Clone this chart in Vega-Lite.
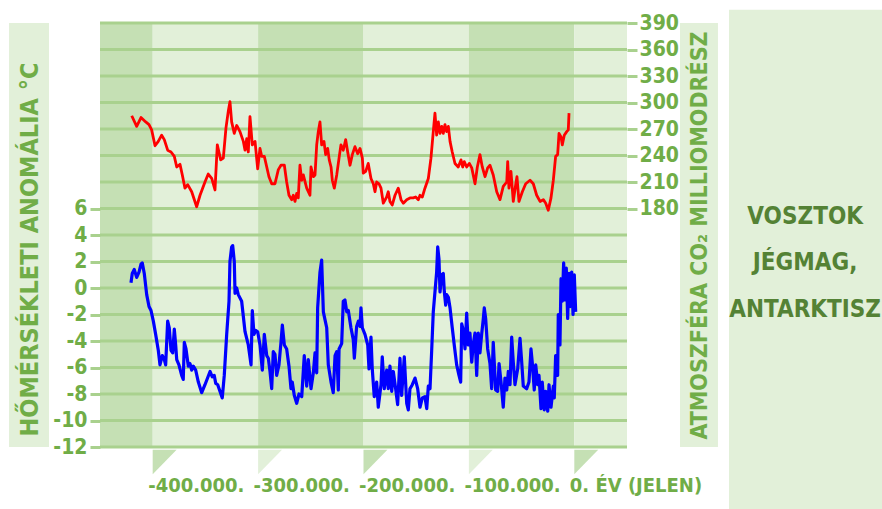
{
  "$schema": "https://vega.github.io/schema/vega-lite/v6.json",
  "width": 527,
  "height": 424,
  "autosize": {"type": "none"},
  "padding": {"left": 100, "top": 23, "right": 255, "bottom": 62},
  "background": "white",
  "config": {"view": {"stroke": null}, "font": "DejaVu Sans Condensed, sans-serif"},
  "datasets": {
    "bands": [
      {"s": -450000, "e": -400000, "shade": "d"},
      {"s": -400000, "e": -300000, "shade": "l"},
      {"s": -300000, "e": -200000, "shade": "d"},
      {"s": -200000, "e": -100000, "shade": "l"},
      {"s": -100000, "e": 0, "shade": "d"},
      {"s": 0, "e": 50000, "shade": "l"}
    ],
    "boxes": [
      {"x1": -536300, "x2": -498400, "t1": 20, "t2": -12},
      {"x1": 100300, "x2": 136300, "t1": 20, "t2": -12},
      {"x1": 146800, "x2": 300000, "t1": 21, "t2": -17}
    ],
    "grid": [
      {"t": -12}, {"t": -10}, {"t": -8}, {"t": -6}, {"t": -4}, {"t": -2}, {"t": 0}, {"t": 2}, {"t": 4},
      {"t": 6}, {"t": 8}, {"t": 10}, {"t": 12}, {"t": 14}, {"t": 16}, {"t": 18}, {"t": 20}
    ],
    "flags": [
      {"k": "a", "x": -400000, "top": -12.2, "bot": -14.05, "shade": "d"},
      {"k": "a", "x": -377300, "top": -12.2, "bot": -12.2, "shade": "d"},
      {"k": "b", "x": -300000, "top": -12.2, "bot": -14.05, "shade": "l"},
      {"k": "b", "x": -277300, "top": -12.2, "bot": -12.2, "shade": "l"},
      {"k": "c", "x": -200000, "top": -12.2, "bot": -14.05, "shade": "d"},
      {"k": "c", "x": -177300, "top": -12.2, "bot": -12.2, "shade": "d"},
      {"k": "d", "x": -100000, "top": -12.2, "bot": -14.05, "shade": "l"},
      {"k": "d", "x": -77300, "top": -12.2, "bot": -12.2, "shade": "l"},
      {"k": "e", "x": 0, "top": -12.2, "bot": -14.05, "shade": "d"},
      {"k": "e", "x": 22700, "top": -12.2, "bot": -12.2, "shade": "d"}
    ],
    "panel": [
      {"x": 219000, "t": 5.36, "txt": "VOSZTOK"},
      {"x": 219000, "t": 1.89, "txt": "JÉGMAG,"},
      {"x": 219000, "t": -1.66, "txt": "ANTARKTISZ"}
    ],
    "temp": [
      {"y": -420600, "t": 0.4}, {"y": -419400, "t": 1.1}, {"y": -417500, "t": 1.4}, {"y": -415200, "t": 0.8},
      {"y": -413000, "t": 1.2}, {"y": -411100, "t": 1.8}, {"y": -409900, "t": 1.9}, {"y": -408000, "t": 1.1},
      {"y": -405700, "t": -0.5}, {"y": -403500, "t": -1.4}, {"y": -401600, "t": -1.7}, {"y": -399400, "t": -2.5},
      {"y": -397200, "t": -3.5}, {"y": -394700, "t": -4.7}, {"y": -393100, "t": -5.8}, {"y": -390900, "t": -5.1},
      {"y": -389000, "t": -5.4}, {"y": -387700, "t": -5.8}, {"y": -385800, "t": -2.5}, {"y": -384300, "t": -3.0},
      {"y": -382600, "t": -4.7}, {"y": -381000, "t": -4.9}, {"y": -379500, "t": -3.1}, {"y": -378200, "t": -4.3},
      {"y": -377200, "t": -5.4}, {"y": -375100, "t": -5.8}, {"y": -372500, "t": -6.6}, {"y": -371000, "t": -6.9},
      {"y": -370000, "t": -4.1}, {"y": -368400, "t": -4.6}, {"y": -366200, "t": -5.9}, {"y": -364600, "t": -5.7},
      {"y": -363000, "t": -6.2}, {"y": -361500, "t": -5.9}, {"y": -359200, "t": -6.2}, {"y": -356700, "t": -7.1},
      {"y": -353500, "t": -7.9}, {"y": -350400, "t": -7.3}, {"y": -345600, "t": -6.3}, {"y": -343500, "t": -6.7},
      {"y": -341600, "t": -6.6}, {"y": -340200, "t": -7.2}, {"y": -338300, "t": -7.3}, {"y": -336200, "t": -7.8},
      {"y": -334000, "t": -8.3}, {"y": -332100, "t": -6.6}, {"y": -329800, "t": -3.5}, {"y": -327600, "t": -1.0},
      {"y": -326700, "t": 2.0}, {"y": -325100, "t": 3.1}, {"y": -324100, "t": 3.2}, {"y": -322600, "t": 2.0},
      {"y": -321900, "t": -0.4}, {"y": -320300, "t": 0.0}, {"y": -318800, "t": -0.5}, {"y": -315600, "t": -1.0},
      {"y": -312400, "t": -3.3}, {"y": -309300, "t": -4.3}, {"y": -306700, "t": -5.8}, {"y": -305500, "t": -1.7},
      {"y": -303900, "t": -3.5}, {"y": -302300, "t": -3.2}, {"y": -300400, "t": -3.3}, {"y": -298200, "t": -4.3},
      {"y": -296000, "t": -6.2}, {"y": -294100, "t": -3.5}, {"y": -291800, "t": -5.1}, {"y": -290300, "t": -5.3},
      {"y": -288700, "t": -6.3}, {"y": -287100, "t": -7.6}, {"y": -285600, "t": -4.8}, {"y": -284000, "t": -5.0},
      {"y": -282400, "t": -6.6}, {"y": -280200, "t": -5.8}, {"y": -278300, "t": -4.1}, {"y": -277000, "t": -2.8},
      {"y": -275100, "t": -4.3}, {"y": -272900, "t": -4.6}, {"y": -270700, "t": -5.9}, {"y": -268800, "t": -7.6},
      {"y": -267600, "t": -7.1}, {"y": -265700, "t": -8.1}, {"y": -263400, "t": -8.7}, {"y": -261200, "t": -8.0},
      {"y": -258600, "t": -8.2}, {"y": -256200, "t": -5.1}, {"y": -253900, "t": -7.4}, {"y": -252400, "t": -5.4},
      {"y": -249800, "t": -7.6}, {"y": -247600, "t": -6.4}, {"y": -246000, "t": -4.9}, {"y": -244400, "t": -6.4},
      {"y": -243500, "t": -1.5}, {"y": -241300, "t": 1.2}, {"y": -239700, "t": 2.1}, {"y": -238100, "t": -1.8},
      {"y": -236500, "t": -2.4}, {"y": -234900, "t": -3.0}, {"y": -233400, "t": -5.8}, {"y": -230800, "t": -7.1},
      {"y": -228700, "t": -7.9}, {"y": -227000, "t": -5.1}, {"y": -225400, "t": -4.8}, {"y": -223900, "t": -7.7},
      {"y": -223200, "t": -4.6}, {"y": -220700, "t": -4.2}, {"y": -219200, "t": -1.0}, {"y": -217600, "t": -0.9},
      {"y": -215900, "t": -1.8}, {"y": -214400, "t": -1.7}, {"y": -211900, "t": -3.0}, {"y": -209700, "t": -3.9},
      {"y": -208700, "t": -5.3}, {"y": -206500, "t": -2.9}, {"y": -204900, "t": -2.5}, {"y": -203300, "t": -2.9},
      {"y": -202400, "t": -1.5}, {"y": -201100, "t": -3.0}, {"y": -198600, "t": -3.5}, {"y": -196000, "t": -4.3},
      {"y": -194800, "t": -6.1}, {"y": -192900, "t": -3.7}, {"y": -191700, "t": -6.1}, {"y": -189800, "t": -8.2},
      {"y": -187500, "t": -7.1}, {"y": -186000, "t": -9.0}, {"y": -183400, "t": -7.3}, {"y": -182200, "t": -5.2},
      {"y": -180300, "t": -7.6}, {"y": -178000, "t": -6.2}, {"y": -176500, "t": -7.6}, {"y": -174900, "t": -5.9},
      {"y": -173200, "t": -7.8}, {"y": -171700, "t": -6.3}, {"y": -169500, "t": -7.6}, {"y": -167600, "t": -8.8},
      {"y": -165400, "t": -5.3}, {"y": -163800, "t": -8.1}, {"y": -161300, "t": -5.2}, {"y": -159000, "t": -8.7},
      {"y": -157500, "t": -9.2}, {"y": -155900, "t": -7.6}, {"y": -153700, "t": -7.3}, {"y": -151100, "t": -6.8},
      {"y": -148600, "t": -7.6}, {"y": -146400, "t": -9.0}, {"y": -144200, "t": -8.3}, {"y": -141700, "t": -8.2},
      {"y": -140000, "t": -9.1}, {"y": -138500, "t": -7.4}, {"y": -136900, "t": -7.6}, {"y": -135300, "t": -4.7},
      {"y": -133800, "t": -1.8}, {"y": -132200, "t": -0.3}, {"y": -130600, "t": 1.2}, {"y": -129600, "t": 3.1},
      {"y": -128400, "t": 2.2}, {"y": -127400, "t": -0.3}, {"y": -125800, "t": 1.0}, {"y": -124300, "t": 1.1},
      {"y": -123300, "t": -0.3}, {"y": -122000, "t": -1.3}, {"y": -121100, "t": -0.5}, {"y": -119500, "t": -0.7},
      {"y": -117900, "t": -1.5}, {"y": -115800, "t": -3.0}, {"y": -113900, "t": -4.3}, {"y": -111600, "t": -5.8},
      {"y": -109400, "t": -6.6}, {"y": -107800, "t": -7.1}, {"y": -106800, "t": -2.7}, {"y": -105300, "t": -3.2},
      {"y": -103700, "t": -4.6}, {"y": -102100, "t": -1.9}, {"y": -100600, "t": -4.3}, {"y": -99000, "t": -3.4},
      {"y": -97300, "t": -5.6}, {"y": -95800, "t": -4.2}, {"y": -94200, "t": -3.4}, {"y": -92600, "t": -6.6},
      {"y": -91100, "t": -3.4}, {"y": -89500, "t": -4.9}, {"y": -87900, "t": -3.5}, {"y": -86300, "t": -2.3},
      {"y": -85400, "t": -1.5}, {"y": -84100, "t": -2.3}, {"y": -82200, "t": -4.6}, {"y": -80000, "t": -5.7},
      {"y": -78400, "t": -7.6}, {"y": -76900, "t": -4.1}, {"y": -74600, "t": -7.7}, {"y": -72700, "t": -7.8},
      {"y": -71400, "t": -5.7}, {"y": -69500, "t": -7.1}, {"y": -67400, "t": -9.0}, {"y": -65800, "t": -6.8},
      {"y": -64100, "t": -7.7}, {"y": -62600, "t": -6.3}, {"y": -61000, "t": -7.3}, {"y": -59400, "t": -3.7},
      {"y": -57900, "t": -5.6}, {"y": -56300, "t": -7.3}, {"y": -53700, "t": -6.1}, {"y": -51500, "t": -3.8},
      {"y": -49900, "t": -5.6}, {"y": -48400, "t": -7.4}, {"y": -45200, "t": -7.6}, {"y": -43000, "t": -7.1},
      {"y": -41100, "t": -4.6}, {"y": -39900, "t": -5.6}, {"y": -38000, "t": -7.7}, {"y": -36600, "t": -5.8},
      {"y": -34700, "t": -7.3}, {"y": -33500, "t": -6.6}, {"y": -31600, "t": -9.1}, {"y": -30400, "t": -7.1},
      {"y": -28500, "t": -9.2}, {"y": -27100, "t": -7.8}, {"y": -25200, "t": -9.3}, {"y": -24000, "t": -7.3},
      {"y": -22100, "t": -9.0}, {"y": -19900, "t": -7.4}, {"y": -19000, "t": -8.3}, {"y": -17700, "t": -5.1},
      {"y": -15800, "t": -6.6}, {"y": -15200, "t": -2.0}, {"y": -13600, "t": -4.3}, {"y": -12600, "t": 0.7},
      {"y": -11400, "t": -1.0}, {"y": -10100, "t": 1.9}, {"y": -8800, "t": -0.9}, {"y": -7600, "t": 1.5},
      {"y": -6300, "t": -2.3}, {"y": -5000, "t": 1.1}, {"y": -3800, "t": -1.4}, {"y": -2500, "t": 1.2},
      {"y": -1200, "t": -2.0}, {"y": 0, "t": 1.0}, {"y": 1300, "t": -1.8}
    ],
    "co2": [
      {"y": -419900, "c": 285}, {"y": -415200, "c": 273}, {"y": -411100, "c": 283}, {"y": -406600, "c": 278},
      {"y": -403500, "c": 275}, {"y": -401000, "c": 269}, {"y": -397800, "c": 251}, {"y": -394700, "c": 256},
      {"y": -391500, "c": 263}, {"y": -389000, "c": 258}, {"y": -385800, "c": 246}, {"y": -382600, "c": 244},
      {"y": -379500, "c": 239}, {"y": -377200, "c": 227}, {"y": -374100, "c": 230}, {"y": -371900, "c": 218},
      {"y": -369400, "c": 203}, {"y": -366800, "c": 207}, {"y": -363000, "c": 199}, {"y": -358300, "c": 182},
      {"y": -355100, "c": 195}, {"y": -350400, "c": 210}, {"y": -347300, "c": 219}, {"y": -344000, "c": 214},
      {"y": -340900, "c": 201}, {"y": -338700, "c": 252}, {"y": -335500, "c": 235}, {"y": -333000, "c": 237},
      {"y": -330500, "c": 271}, {"y": -328300, "c": 290}, {"y": -326700, "c": 301}, {"y": -325100, "c": 278},
      {"y": -322600, "c": 265}, {"y": -320300, "c": 274}, {"y": -317200, "c": 267}, {"y": -314000, "c": 256},
      {"y": -312400, "c": 246}, {"y": -310800, "c": 259}, {"y": -309300, "c": 244}, {"y": -307700, "c": 284},
      {"y": -305500, "c": 252}, {"y": -302900, "c": 256}, {"y": -300400, "c": 225}, {"y": -298200, "c": 248},
      {"y": -296600, "c": 239}, {"y": -294100, "c": 239}, {"y": -291800, "c": 227}, {"y": -289700, "c": 216},
      {"y": -287100, "c": 208}, {"y": -284000, "c": 208}, {"y": -280800, "c": 224}, {"y": -278300, "c": 229},
      {"y": -275100, "c": 229}, {"y": -272900, "c": 210}, {"y": -270700, "c": 195}, {"y": -268100, "c": 190},
      {"y": -266600, "c": 195}, {"y": -265000, "c": 188}, {"y": -263400, "c": 197}, {"y": -261900, "c": 192},
      {"y": -260300, "c": 229}, {"y": -258600, "c": 212}, {"y": -257100, "c": 218}, {"y": -253900, "c": 203},
      {"y": -250800, "c": 195}, {"y": -249800, "c": 227}, {"y": -247600, "c": 216}, {"y": -246000, "c": 218},
      {"y": -244400, "c": 252}, {"y": -242900, "c": 267}, {"y": -241300, "c": 278}, {"y": -239700, "c": 252},
      {"y": -237500, "c": 256}, {"y": -235900, "c": 241}, {"y": -234000, "c": 248}, {"y": -232500, "c": 235},
      {"y": -230800, "c": 227}, {"y": -229600, "c": 212}, {"y": -227700, "c": 203}, {"y": -225400, "c": 218},
      {"y": -223200, "c": 237}, {"y": -221400, "c": 252}, {"y": -219200, "c": 246}, {"y": -216900, "c": 258},
      {"y": -215000, "c": 244}, {"y": -212800, "c": 229}, {"y": -210600, "c": 241}, {"y": -208100, "c": 250},
      {"y": -205500, "c": 242}, {"y": -203300, "c": 248}, {"y": -201100, "c": 237}, {"y": -200200, "c": 220},
      {"y": -197900, "c": 222}, {"y": -195500, "c": 231}, {"y": -192900, "c": 214}, {"y": -190700, "c": 208},
      {"y": -189100, "c": 199}, {"y": -187500, "c": 210}, {"y": -185300, "c": 208}, {"y": -183400, "c": 203},
      {"y": -181200, "c": 186}, {"y": -178000, "c": 193}, {"y": -176500, "c": 199}, {"y": -174900, "c": 188},
      {"y": -172700, "c": 184}, {"y": -170100, "c": 195}, {"y": -167000, "c": 203}, {"y": -164400, "c": 190},
      {"y": -162200, "c": 186}, {"y": -159000, "c": 190}, {"y": -155900, "c": 192}, {"y": -152800, "c": 192},
      {"y": -150500, "c": 193}, {"y": -148000, "c": 190}, {"y": -146400, "c": 195}, {"y": -144200, "c": 193},
      {"y": -141700, "c": 203}, {"y": -138500, "c": 214}, {"y": -136000, "c": 237}, {"y": -133800, "c": 267},
      {"y": -132200, "c": 288}, {"y": -130600, "c": 263}, {"y": -129000, "c": 278}, {"y": -127400, "c": 265},
      {"y": -125800, "c": 273}, {"y": -124300, "c": 265}, {"y": -122700, "c": 275}, {"y": -121100, "c": 267},
      {"y": -119500, "c": 273}, {"y": -117900, "c": 256}, {"y": -115800, "c": 244}, {"y": -113200, "c": 231},
      {"y": -110100, "c": 227}, {"y": -107500, "c": 235}, {"y": -105900, "c": 227}, {"y": -104400, "c": 233},
      {"y": -102100, "c": 227}, {"y": -99600, "c": 231}, {"y": -97300, "c": 226}, {"y": -94200, "c": 208},
      {"y": -92000, "c": 227}, {"y": -89500, "c": 241}, {"y": -87300, "c": 227}, {"y": -84700, "c": 216},
      {"y": -82200, "c": 226}, {"y": -80000, "c": 229}, {"y": -76900, "c": 218}, {"y": -73600, "c": 199},
      {"y": -70500, "c": 190}, {"y": -67400, "c": 205}, {"y": -64100, "c": 210}, {"y": -63200, "c": 233},
      {"y": -62000, "c": 203}, {"y": -60100, "c": 222}, {"y": -57900, "c": 188}, {"y": -55600, "c": 207},
      {"y": -54400, "c": 216}, {"y": -52500, "c": 188}, {"y": -49300, "c": 199}, {"y": -46100, "c": 208},
      {"y": -42000, "c": 212}, {"y": -38900, "c": 208}, {"y": -35700, "c": 195}, {"y": -32500, "c": 188},
      {"y": -29400, "c": 190}, {"y": -27100, "c": 186}, {"y": -24700, "c": 178}, {"y": -22100, "c": 192},
      {"y": -19900, "c": 212}, {"y": -17700, "c": 239}, {"y": -15800, "c": 241}, {"y": -14500, "c": 265},
      {"y": -12600, "c": 261}, {"y": -11400, "c": 252}, {"y": -9500, "c": 263}, {"y": -7200, "c": 267},
      {"y": -5700, "c": 269}, {"y": -5000, "c": 288}
    ]
  },
  "layer": [
    {
      "layer": [
        {
          "data": {"name": "bands"},
          "mark": {"type": "rect"},
          "encoding": {
            "x": {"field": "s", "type": "quantitative", "scale": {"domain": [-450000, 50000], "nice": false, "zero": false},
              "axis": {"orient": "bottom", "values": [-400000, -300000, -200000, -100000, 0],
                "labelExpr": "datum.value == 0 ? '0. ÉV (JELEN)' : '-' + format(abs(datum.value) / 1000, 'd') + '.000.'",
                "title": null, "domain": false, "ticks": false, "grid": false, "labelAlign": "left", "labelOffset": -5,
                "labelPadding": 28, "labelBaseline": "top", "labelFontSize": 20, "labelFontWeight": "bold",
                "labelColor": "#70AD47", "labelFlush": false, "labelOverlap": false, "labelBound": false,
                "labelFont": "DejaVu Sans Condensed, sans-serif"}},
            "x2": {"field": "e"},
            "color": {"field": "shade", "type": "nominal", "scale": {"domain": ["d", "l"], "range": ["#C5E0B4", "#E2F0D9"]}, "legend": null}
          }
        },
        {
          "data": {"name": "boxes"},
          "mark": {"type": "rect", "fill": "#E2F0D9"},
          "encoding": {
            "x": {"field": "x1", "type": "quantitative", "scale": {"domain": [-450000, 50000], "nice": false, "zero": false}, "axis": null},
            "x2": {"field": "x2"},
            "y": {"field": "t1", "type": "quantitative", "scale": {"domain": [-12, 20], "nice": false, "zero": false}, "axis": null},
            "y2": {"field": "t2"}
          }
        },
        {
          "data": {"name": "grid"},
          "mark": {"type": "rule", "color": "#A9D18E", "strokeWidth": 3},
          "encoding": {
            "y": {"field": "t", "type": "quantitative", "scale": {"domain": [-12, 20], "nice": false, "zero": false},
              "axis": {"orient": "left", "values": [-12, -10, -8, -6, -4, -2, 0, 2, 4, 6],
                "labelExpr": "datum.value < 0 ? '-' + abs(datum.value) : '' + datum.value",
                "title": "HŐMÉRSÉKLETI ANOMÁLIA °C", "titleX": -71, "titleY": 226, "titleAngle": -90,
                "titleAlign": "center", "titleBaseline": "middle", "titleFontSize": 25, "titleFontWeight": "bold",
                "titleColor": "#70AD47", "titleFont": "DejaVu Sans Condensed, sans-serif",
                "domain": false, "grid": false, "tickSize": 10, "tickWidth": 3, "tickColor": "#A9D18E",
                "labelFontSize": 21, "labelFontWeight": "bold", "labelColor": "#70AD47", "labelPadding": 3,
                "labelFont": "DejaVu Sans Condensed, sans-serif", "labelOverlap": false,
                "labelBound": false, "labelFlush": false, "zindex": 1}}
          }
        },
        {
          "data": {"name": "flags"},
          "mark": {"type": "area"},
          "encoding": {
            "x": {"field": "x", "type": "quantitative", "scale": {"domain": [-450000, 50000], "nice": false, "zero": false}, "axis": null},
            "y": {"field": "top", "type": "quantitative", "scale": {"domain": [-12, 20], "nice": false, "zero": false}, "axis": null},
            "y2": {"field": "bot"},
            "detail": {"field": "k", "type": "nominal"},
            "color": {"field": "shade", "type": "nominal", "legend": null}
          }
        },
        {
          "data": {"name": "temp"},
          "mark": {"type": "line", "color": "#0000FF", "strokeWidth": 3.2, "strokeJoin": "round"},
          "encoding": {
            "x": {"field": "y", "type": "quantitative", "scale": {"domain": [-450000, 50000], "nice": false, "zero": false}, "axis": null},
            "y": {"field": "t", "type": "quantitative", "scale": {"domain": [-12, 20], "nice": false, "zero": false}, "axis": null}
          }
        },
        {
          "data": {"name": "panel"},
          "mark": {"type": "text", "fontSize": 24, "fontWeight": "bold", "color": "#548235", "align": "center", "baseline": "middle",
            "font": "DejaVu Sans Condensed, sans-serif"},
          "encoding": {
            "x": {"field": "x", "type": "quantitative", "scale": {"domain": [-450000, 50000], "nice": false, "zero": false}, "axis": null},
            "y": {"field": "t", "type": "quantitative", "scale": {"domain": [-12, 20], "nice": false, "zero": false}, "axis": null},
            "text": {"field": "txt"}
          }
        }
      ],
      "resolve": {"axis": {"x": "independent", "y": "independent"}}
    },
    {
      "data": {"name": "co2"},
      "mark": {"type": "line", "color": "#FF0000", "strokeWidth": 2.8, "strokeJoin": "round"},
      "encoding": {
        "x": {"field": "y", "type": "quantitative", "scale": {"domain": [-450000, 50000], "nice": false, "zero": false}, "axis": null},
        "y": {"field": "c", "type": "quantitative", "scale": {"domain": [-90, 390], "nice": false, "zero": false},
          "axis": {"orient": "right", "values": [180, 210, 240, 270, 300, 330, 360, 390],
            "title": "ATMOSZFÉRA CO₂ MILLIOMODRÉSZ", "titleX": 72, "titleY": 212, "titleAngle": -90,
            "titleAlign": "center", "titleBaseline": "middle", "titleFontSize": 23, "titleFontWeight": "bold",
            "titleColor": "#70AD47", "titleFont": "DejaVu Sans Condensed, sans-serif",
            "domain": false, "grid": false, "tickSize": 10, "tickWidth": 3, "tickColor": "#A9D18E",
            "labelFontSize": 21, "labelFontWeight": "bold", "labelColor": "#70AD47", "labelPadding": 2,
            "labelFont": "DejaVu Sans Condensed, sans-serif", "labelOverlap": false,
            "labelBound": false, "labelFlush": false, "zindex": 1}}
      }
    }
  ],
  "resolve": {"scale": {"y": "independent"}, "axis": {"x": "independent"}}
}
